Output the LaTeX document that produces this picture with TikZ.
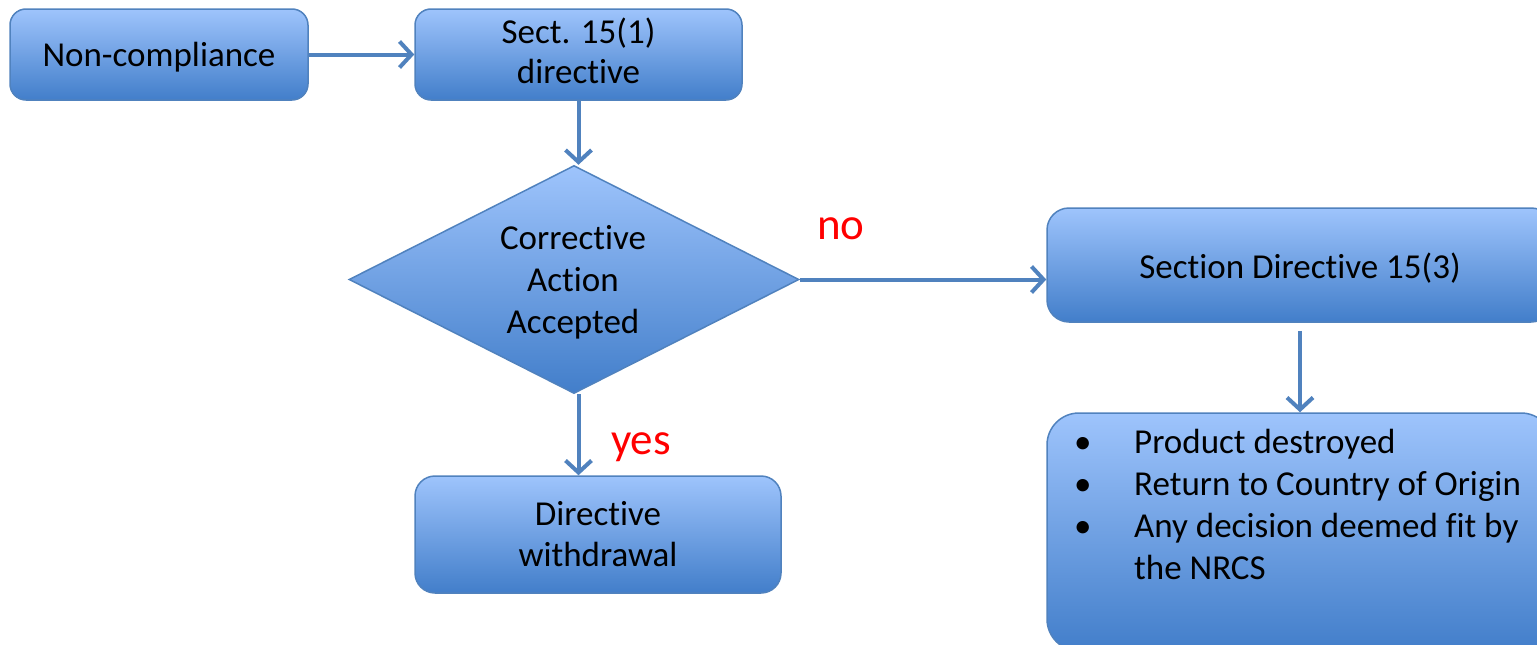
\documentclass[tikz,border=0pt]{standalone}
\usepackage{fontspec}
\setmainfont{Carlito}[RawFeature={-liga}]
\usetikzlibrary{arrows.meta,shapes.geometric,calc}
\definecolor{boxtop}{RGB}{158,196,252}
\definecolor{boxbot}{RGB}{66,126,202}
\definecolor{edgec}{RGB}{80,130,190}
\definecolor{lblc}{RGB}{255,0,0}
\tikzset{
  flowbox/.style={draw=edgec, line width=1.5pt, top color=boxtop, bottom color=boxbot,
    rounded corners=16pt, inner sep=0pt, align=center, text=black,
    font=\fontsize{35}{41}\selectfont},
  conn/.style={draw=edgec, line width=4pt, -{Straight Barb[length=12pt,width=26pt]}},
  lbl/.style={text=lblc, inner sep=0pt, font=\fontsize{45}{50}\selectfont},
  txt/.style={text=black, inner sep=0pt, align=center, font=\fontsize{35}{42}\selectfont}
}
\begin{document}
\begin{tikzpicture}[x=1pt,y=-1pt]
\clip (0,0) rectangle (1537,645);
\fill[white] (0,0) rectangle (1537,645);
% boxes
\node[flowbox, minimum width=298pt, minimum height=91pt] (nc) at (159,54.5) {};
\node[txt] (nctext) at (159,57) {Non-compliance};
\node[flowbox, minimum width=327pt, minimum height=91pt] (sb) at (578.5,54.5) {};
\node[txt, font=\fontsize{35}{40}\selectfont] (sbtext) at (578.5,51) {Sect. 15(1)\\directive};
\node[diamond, draw=edgec, line width=1.5pt, top color=boxtop, bottom color=boxbot,
  minimum width=450pt, minimum height=228pt, inner sep=0pt] (dia) at (574,279.5) {};
\node[txt] (diatext) at (573,282) {Corrective\\Action\\Accepted};
\node[flowbox, rounded corners=20pt, minimum width=366pt, minimum height=117pt] (wd) at (598,534.5) {Directive\\withdrawal};
\node[flowbox, rounded corners=22pt, minimum width=506pt, minimum height=114pt] (sc) at (1300,265) {};
\node[txt] (sctext) at (1300,268) {Section Directive 15(3)};
\node[flowbox, rounded corners=32pt, minimum width=506pt, minimum height=238pt] (opt) at (1300,532) {};
\node[anchor=base west, inner sep=0pt, text=black, font=\fontsize{35}{42.3}\selectfont] (lst) at (1074,453)
  {\begin{tabular}[t]{@{}p{60pt}@{}l@{}}
   \textbullet & Product destroyed\\
   \textbullet & Return to Country of Origin\\
   \textbullet & Any decision deemed fit by\\
               & the NRCS
   \end{tabular}};
% labels
\node[lbl] (no) at (841,229) {no};
\node[lbl] (yes) at (641,447) {yes};
% connectors
\draw[conn] (nc.east) -- (sb.west);
\draw[conn] (sb.south) -- (sb.south |- dia.north);
\draw[conn] (dia.east) -- (sc.west |- dia.east);
\draw[conn] (dia.south -| sb.south) -- (wd.north -| sb.south);
\draw[conn, shorten <=8pt] (sc.south) -- (opt.north);
\end{tikzpicture}
\end{document}
